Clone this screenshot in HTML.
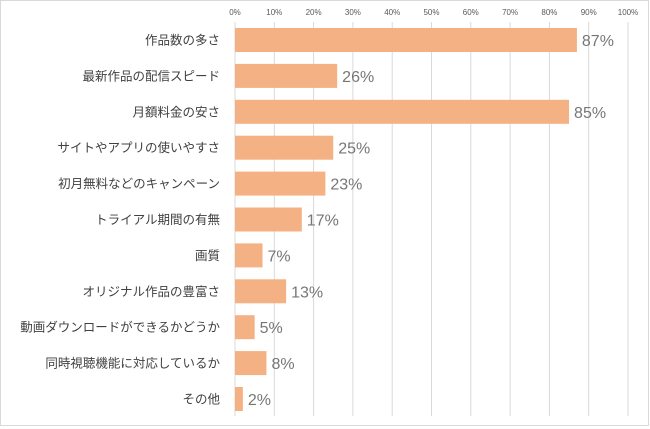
<!DOCTYPE html>
<html><head><meta charset="utf-8"><style>
html,body{margin:0;padding:0;background:#fff}
#wrap{position:relative;width:650px;height:429px;overflow:hidden}
svg{font-family:"Liberation Sans","Noto Sans CJK JP",sans-serif}
</style></head><body>
<div id="wrap">
<svg id="chart" width="650" height="429">
<rect x="0.5" y="0.5" width="648" height="425" fill="#fff" stroke="#d9d9d9"/>
</svg>
</div>
<script>
const categories=["作品数の多さ","最新作品の配信スピード","月額料金の安さ","サイトやアプリの使いやすさ","初月無料などのキャンペーン","トライアル期間の有無","画質","オリジナル作品の豊富さ","動画ダウンロードができるかどうか","同時視聴機能に対応しているか","その他"];
const values=[87,26,85,25,23,17,7,13,5,8,2];
const tickValues=[0,10,20,30,40,50,60,70,80,90,100];
const NS="http://www.w3.org/2000/svg";
const svg=document.getElementById('chart');
const x0=235,x1=628,yTop=22,yBot=416,first=40,step=35.9,bh=24;
const xs=v=>x0+(x1-x0)*v/100;
const ys=i=>first+i*step;
function mk(t,a){const e=document.createElementNS(NS,t);for(const k in a)e.setAttribute(k,a[k]);svg.appendChild(e);return e;}
tickValues.forEach(t=>{
  const g=mk('line',{x1:xs(t),x2:xs(t),y1:yTop,y2:yBot,stroke:'#d9d9d9','stroke-width':1});
  
  
  const l=mk('text',{x:xs(t),y:15,'font-size':8,fill:'#595959','text-anchor':'middle'});
  l.textContent=t+'%';
  
  
});
categories.forEach((c,i)=>{
  const cy=ys(i);
  const r=mk('rect',{x:x0,y:cy-bh/2,width:xs(values[i])-x0,height:bh,fill:'#f4b183'});
  
  
  const t=mk('text',{x:220,y:cy+4.5,'font-size':12.5,fill:'#404040','text-anchor':'end'});
  t.textContent=c;
  
  
  const v=mk('text',{x:xs(values[i])+5,y:cy+6,'font-size':16,fill:'#767676'});
  v.textContent=values[i]+'%';
  
  
});
</script>
</body></html>
